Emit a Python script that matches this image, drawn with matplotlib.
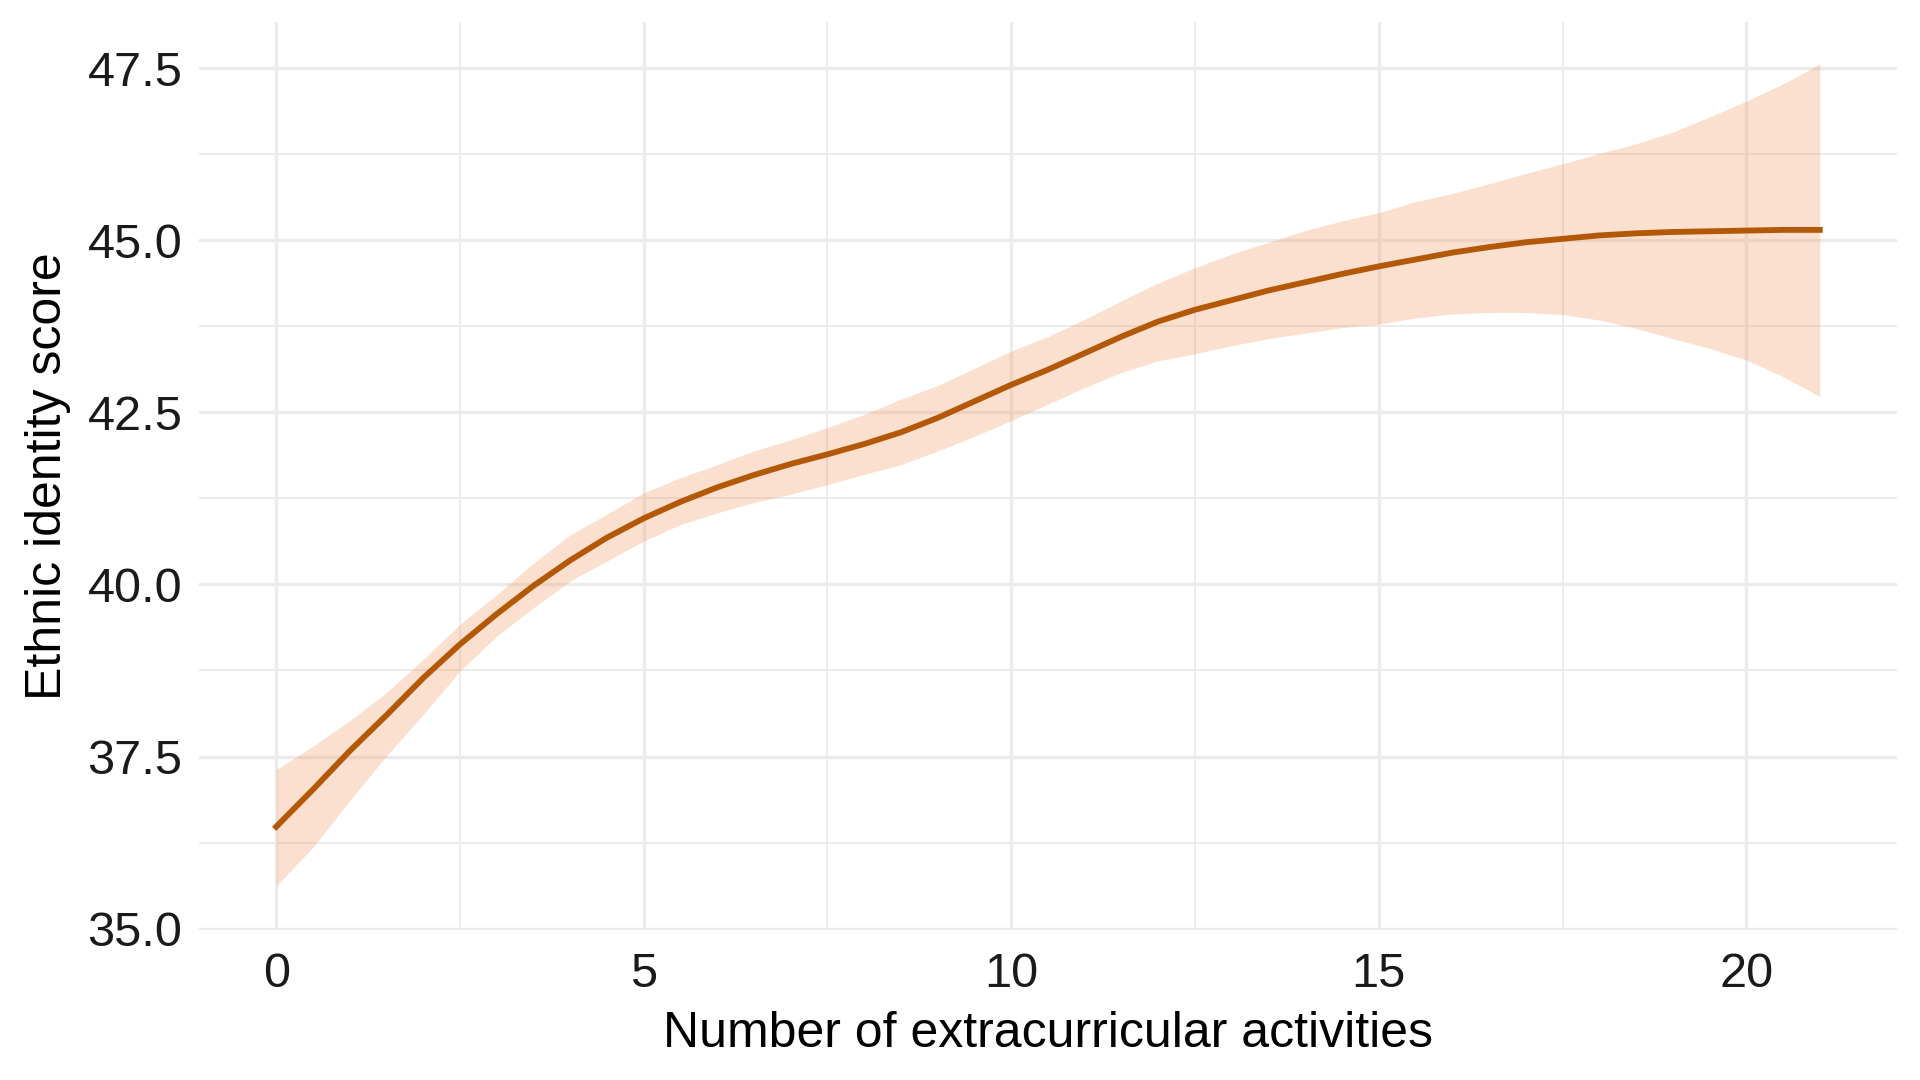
import numpy as np
import matplotlib
matplotlib.use('Agg')
import matplotlib.pyplot as plt

plt.rcParams['font.family'] = ['Liberation Sans', 'DejaVu Sans']

# smooth fit (loess-like)
actividades = np.arange(0, 21.5, 0.5)
ajuste = [36.48, 37.02, 37.58, 38.10, 38.64, 39.13, 39.57, 39.98, 40.35, 40.68,
          40.96, 41.20, 41.41, 41.59, 41.75, 41.89, 42.04, 42.21, 42.42, 42.66,
          42.90, 43.12, 43.36, 43.60, 43.82, 43.99, 44.13, 44.27, 44.39, 44.51,
          44.62, 44.72, 44.82, 44.90, 44.97, 45.02, 45.07, 45.10, 45.12, 45.13,
          45.14, 45.15, 45.15]
banda_sup = [37.31, 37.65, 38.02, 38.43, 38.91, 39.42, 39.85, 40.31, 40.72, 41.02,
             41.33, 41.55, 41.74, 41.94, 42.10, 42.28, 42.47, 42.69, 42.89, 43.14,
             43.39, 43.60, 43.85, 44.12, 44.38, 44.60, 44.80, 44.97, 45.14, 45.28,
             45.40, 45.56, 45.68, 45.82, 45.97, 46.11, 46.26, 46.40, 46.57, 46.79,
             47.02, 47.27, 47.56]
banda_inf = [35.62, 36.18, 36.86, 37.51, 38.11, 38.74, 39.25, 39.66, 40.05, 40.34,
             40.63, 40.87, 41.04, 41.19, 41.31, 41.45, 41.60, 41.74, 41.94, 42.15,
             42.38, 42.62, 42.86, 43.08, 43.25, 43.35, 43.47, 43.57, 43.65, 43.73,
             43.78, 43.87, 43.93, 43.95, 43.95, 43.92, 43.84, 43.72, 43.57, 43.43,
             43.26, 43.02, 42.73]

ticks_x = [0, 5, 10, 15, 20]
ticks_y = [35.0, 37.5, 40.0, 42.5, 45.0, 47.5]

fig = plt.figure(figsize=(19.2, 10.8), dpi=100)
ax = fig.add_axes([199/1920, 1 - 930/1080, (1897 - 199)/1920, (930 - 22)/1080])

ax.fill_between(actividades, banda_inf, banda_sup, color='#F29862', alpha=0.3,
                linewidth=0, zorder=3)
ax.plot(actividades, ajuste, color='#B35806', linewidth=4.2, zorder=4,
        solid_joinstyle='round')

ax.set_xlim(-1.05, 22.05)
ax.set_ylim(34.98, 48.17)
ax.set_xticks(ticks_x)
ax.set_yticks(ticks_y)
ax.set_yticklabels(['{:.1f}'.format(v) for v in ticks_y])
ax.set_xticks([2.5, 7.5, 12.5, 17.5], minor=True)
ax.set_yticks([36.25, 38.75, 41.25, 43.75, 46.25], minor=True)

ax.grid(which='major', color='#EBEBEB', linewidth=2.4, zorder=0)
ax.grid(which='minor', color='#EBEBEB', linewidth=1.3, zorder=0)
ax.set_axisbelow(True)
for s in ax.spines.values():
    s.set_visible(False)
ax.tick_params(which='both', length=0)
ax.tick_params(axis='x', labelsize=35, colors='#1A1A1A', pad=16)
ax.tick_params(axis='y', labelsize=35, colors='#1A1A1A', pad=12)

ax.set_xlabel('Number of extracurricular activities', fontsize=36, color='black', labelpad=10)
ax.set_ylabel('Ethnic identity score', fontsize=36, color='black', labelpad=12)

fig.savefig('out.png', dpi=100, facecolor='white')
